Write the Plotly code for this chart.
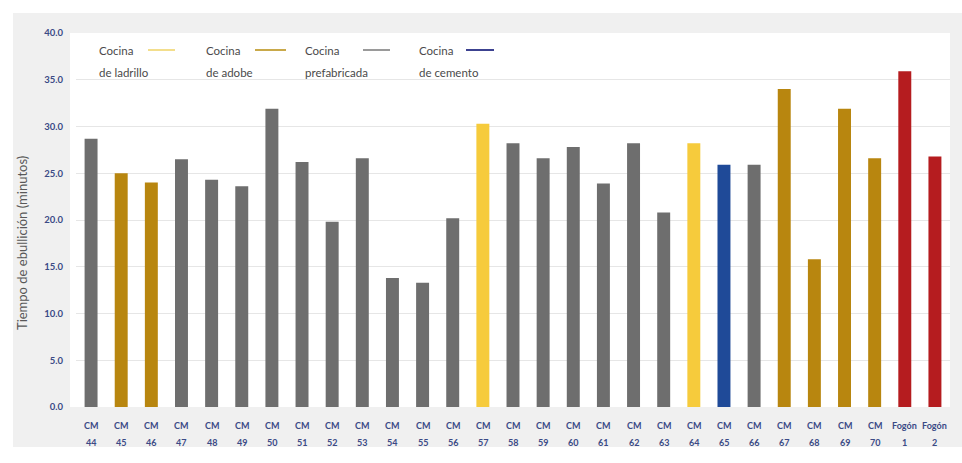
import plotly.graph_objects as go

categories = ["CM 44", "CM 45", "CM 46", "CM 47", "CM 48", "CM 49", "CM 50",
              "CM 51", "CM 52", "CM 53", "CM 54", "CM 55", "CM 56", "CM 57",
              "CM 58", "CM 59", "CM 60", "CM 61", "CM 62", "CM 63", "CM 64",
              "CM 65", "CM 66", "CM 67", "CM 68", "CM 69", "CM 70",
              "Fogón 1", "Fogón 2"]
values = [28.7, 25.0, 24.0, 26.5, 24.3, 23.6, 31.9, 26.2, 19.8, 26.6, 13.8, 13.3, 20.2, 30.3,
          28.2, 26.6, 27.8, 23.9, 28.2, 20.8, 28.2, 25.9, 25.9, 34.0, 15.8, 31.9, 26.6, 35.9, 26.8]
kinds = ["prefabricada", "adobe", "adobe"] + ["prefabricada"] * 10 + ["ladrillo"] + \
        ["prefabricada"] * 6 + ["ladrillo", "cemento", "prefabricada"] + ["adobe"] * 4 + ["fogon"] * 2
y_ticks = [0, 5, 10, 15, 20, 25, 30, 35, 40]
legend_line1 = ["Cocina", "Cocina", "Cocina", "Cocina"]
legend_line2 = ["de ladrillo", "de adobe", "prefabricada", "de cemento"]
legend_kinds = ["ladrillo", "adobe", "prefabricada", "cemento"]

bar_colors = {"prefabricada": "#6e6e6e", "adobe": "#b8860f", "ladrillo": "#f6cb3c",
              "cemento": "#1f4a98", "fogon": "#b51c1f"}
legend_line_colors = {"ladrillo": "#f3de8c", "adobe": "#c9a94a", "prefabricada": "#9a9a9a",
                      "cemento": "#3c4290"}

W, H = 962, 463
L, R, T, B = 76, 12, 33, 56
pw, ph = W - L - R, H - T - B


def px(x):
    return (x - L) / pw


def py(y):
    return (H - B - y) / ph


fig = go.Figure(go.Bar(
    x=categories, y=values,
    marker=dict(color=[bar_colors[k] for k in kinds], line=dict(width=0)),
    showlegend=False, hoverinfo="x+y",
))

tick_font = dict(family="Lato", size=9, color="#3b4a86", weight="bold")

shapes = [
    dict(type="rect", xref="paper", yref="paper", x0=px(13), x1=px(962), y0=py(447), y1=py(13),
         fillcolor="#f0f0f0", line=dict(width=0), layer="below"),
    dict(type="rect", xref="paper", yref="paper", x0=px(70), x1=px(950), y0=0, y1=1,
         fillcolor="#ffffff", line=dict(width=0), layer="below"),
]
annotations = [
    dict(text="Tiempo de ebullición (minutos)", xref="paper", yref="paper", x=px(22), y=py(243),
         textangle=-90, showarrow=False, font=dict(family="Lato", size=13, color="#585858"),
         xanchor="center", yanchor="middle"),
]
# two-line category labels below the axis
for cat in categories:
    first, second = cat.split(" ")
    annotations.append(dict(text=first, x=cat, xref="x", y=0, yref="paper", yshift=-18,
                            showarrow=False, xanchor="center", yanchor="middle", font=tick_font))
    annotations.append(dict(text=second, x=cat, xref="x", y=0, yref="paper", yshift=-35,
                            showarrow=False, xanchor="center", yanchor="middle", font=tick_font))

leg_text_x = [97, 204, 303, 417]
leg_line_x = [(148, 175), (255, 286), (363, 390), (466, 494)]
leg_font = dict(family="Lato", size=11.5, color="#4a4a4a")
for l1, l2, kind, tx, (lx0, lx1) in zip(legend_line1, legend_line2, legend_kinds, leg_text_x, leg_line_x):
    annotations.append(dict(text=l1, xref="paper", yref="paper", x=px(tx), y=py(51),
                            xanchor="left", yanchor="middle", showarrow=False, font=leg_font))
    annotations.append(dict(text=l2, xref="paper", yref="paper", x=px(tx), y=py(72),
                            xanchor="left", yanchor="middle", showarrow=False, font=leg_font))
    shapes.append(dict(type="line", xref="paper", yref="paper", x0=px(lx0), x1=px(lx1),
                       y0=py(50), y1=py(50), line=dict(color=legend_line_colors[kind], width=2)))

fig.update_layout(
    width=W, height=H,
    margin=dict(l=L, r=R, t=T, b=B, pad=0),
    paper_bgcolor="#ffffff", plot_bgcolor="rgba(0,0,0,0)",
    bargap=0.57,
    shapes=shapes, annotations=annotations,
    xaxis=dict(showgrid=False, showline=False, ticks="", showticklabels=False),
    yaxis=dict(range=[0, 40], tickvals=y_ticks, ticktext=[f"{v:.1f}" for v in y_ticks],
               showgrid=True, gridcolor="#e6e6e6", gridwidth=1, zeroline=False, showline=False,
               tickfont=dict(family="Lato", size=9.5, color="#3b4a86", weight="bold"),
               ticklabelstandoff=12),
)

fig.write_html("out.html")
